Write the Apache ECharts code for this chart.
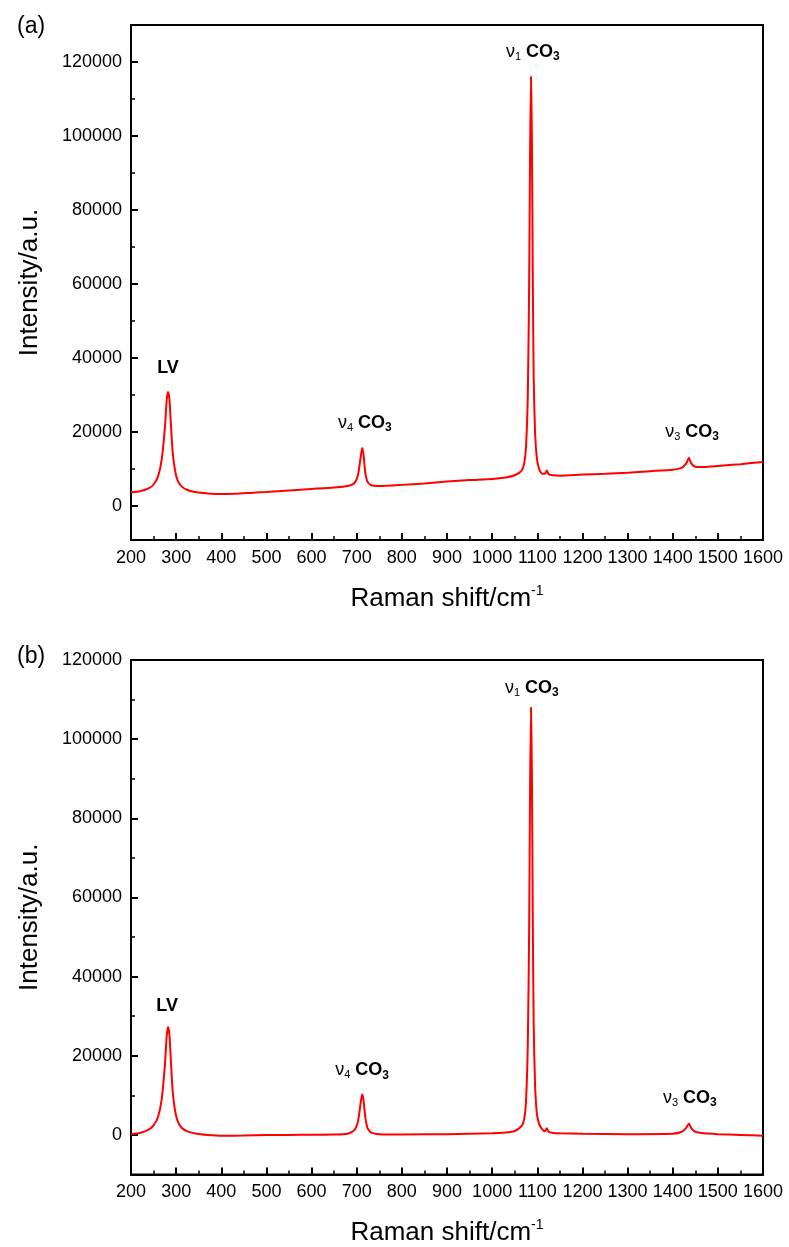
<!DOCTYPE html>
<html>
<head>
<meta charset="utf-8">
<script src="https://cdn.jsdelivr.net/npm/echarts@6/dist/echarts.min.js"></script>
<style>
  html, body { margin: 0; padding: 0; background: #fff; }
  #chart { width: 789px; height: 1247px; }
</style>
</head>
<body>
<div id="chart"></div>
<script>
// Raman shift (cm-1) and intensity
var shiftA = [200, 220, 240, 250, 260, 268, 275, 279, 282, 285, 288, 292, 297, 303, 312, 325, 345, 370, 400, 430, 470, 500, 550, 600, 650, 680, 695, 703, 708, 712, 715, 719, 724, 732, 750, 800, 850, 900, 950, 1000, 1030, 1050, 1065, 1071, 1075, 1079, 1082, 1084, 1086, 1088, 1090, 1092, 1095, 1099, 1104, 1110, 1117, 1121, 1125, 1135, 1150, 1200, 1250, 1300, 1350, 1400, 1420, 1430, 1436, 1441, 1450, 1470, 1500, 1550, 1600];
var intensityA = [3700, 4000, 4800, 5800, 8000, 12500, 21000, 28500, 30800, 29000, 23000, 15000, 10000, 7000, 5300, 4300, 3700, 3400, 3250, 3300, 3600, 3800, 4200, 4600, 5000, 5400, 6200, 8500, 12500, 15700, 14000, 9000, 6500, 5600, 5400, 5700, 6100, 6600, 7000, 7300, 7700, 8300, 9500, 11500, 16000, 30000, 60000, 95000, 116000, 100000, 62000, 35000, 20000, 13000, 10000, 8800, 8700, 9600, 8600, 8300, 8200, 8500, 8700, 9000, 9400, 9800, 10300, 11500, 13000, 11500, 10600, 10500, 10800, 11300, 11900];

// panel (b)
var shiftB = [200, 220, 240, 250, 260, 268, 275, 279, 282, 285, 288, 292, 297, 303, 312, 325, 345, 370, 400, 450, 500, 550, 600, 650, 680, 695, 703, 708, 712, 715, 719, 724, 732, 750, 800, 900, 1000, 1030, 1050, 1065, 1071, 1075, 1079, 1082, 1084, 1086, 1088, 1090, 1092, 1095, 1099, 1104, 1110, 1117, 1121, 1125, 1135, 1150, 1200, 1300, 1400, 1420, 1430, 1436, 1441, 1450, 1470, 1500, 1550, 1600];
var intensityB = [200, 500, 1400, 2400, 4600, 9000, 17500, 24800, 27300, 25500, 19500, 11500, 6500, 3600, 1800, 900, 300, 0, -200, -150, -50, 0, 50, 100, 300, 1200, 3500, 7500, 10300, 8800, 4500, 1700, 600, 200, 100, 200, 400, 600, 1000, 2200, 4000, 8500, 23000, 52000, 87000, 108000, 92000, 55000, 28000, 13000, 5500, 2800, 1500, 900, 1700, 800, 500, 400, 300, 200, 300, 800, 1800, 2900, 1700, 800, 400, 200, 0, -200];

// tick values
var majorTicks = [0, 20000, 40000, 60000, 80000, 100000, 120000];
var minorTicksA = [10000, 30000, 50000, 70000, 90000, 110000, 130000];
var minorTicksB = [-10000, 10000, 30000, 50000, 70000, 90000, 110000];

// peak annotations: [shift, intensity, label]
var peaksA = [[282, 37300, 'lv'], [718, 22400, 'v4'], [1090, 122700, 'v1'], [1443, 20000, 'v3']];
var peaksB = [[280, 32450, 'lv'], [712, 16350, 'v4'], [1088, 113000, 'v1'], [1438, 9300, 'v3']];

var font = 'Liberation Sans, Arial, sans-serif';

function peakText(k) {
    if (k === 'lv') return '{b|LV}';
    return '{nu|ν}{sub|' + k.charAt(1) + '}{b| CO}{sub3|3}';
}

var richPeak = {
    b: { fontFamily: font, fontWeight: 'bold', fontSize: 18, color: '#000' },
    nu: { fontFamily: font, fontSize: 18, color: '#000' },
    sub: { fontFamily: font, fontSize: 11, color: '#000', padding: [10, 0, 0, 0] },
    sub3: { fontFamily: font, fontWeight: 'bold', fontSize: 12, color: '#000', padding: [10, 0, 0, 0] }
};

function pairs(xs, ys) {
    var out = [];
    for (var i = 0; i < xs.length; i++) out.push([xs[i], ys[i]]);
    return out;
}

function plain(v) { return String(v); }

function xAxisFor(idx) {
    return {
        type: 'value', gridIndex: idx, min: 200, max: 1600, interval: 100,
        name: 'Raman shift/cm{sup|-1}', nameLocation: 'middle', nameGap: 44,
        nameTextStyle: {
            fontFamily: font, fontSize: 26, color: '#000',
            rich: { sup: { fontFamily: font, fontSize: 14, color: '#000', padding: [0, 0, 15, 0] } }
        },
        axisLine: { show: true, onZero: false, lineStyle: { color: '#000', width: 2 } },
        axisTick: { show: true, inside: true, length: 7, lineStyle: { color: '#000', width: 2 } },
        minorTick: { show: true, splitNumber: 2, length: 4, lineStyle: { color: '#000', width: 1.5 } },
        axisLabel: { fontFamily: font, fontSize: 18, color: '#000', margin: 9, formatter: plain },
        splitLine: { show: false }
    };
}

function yAxesFor(idx, min, max, minors) {
    return [{
        type: 'value', gridIndex: idx, min: min, max: max,
        name: 'Intensity/a.u.', nameLocation: 'middle', nameGap: 88, nameRotate: 90,
        nameTextStyle: { fontFamily: font, fontSize: 26, color: '#000' },
        axisLine: { show: true, onZero: false, lineStyle: { color: '#000', width: 2 } },
        axisTick: { show: true, inside: true, length: 7, customValues: majorTicks, lineStyle: { color: '#000', width: 2 } },
        axisLabel: { fontFamily: font, fontSize: 18, color: '#000', margin: 9, customValues: majorTicks, formatter: plain },
        splitLine: { show: false }
    }, {
        type: 'value', gridIndex: idx, min: min, max: max, position: 'left',
        axisLine: { show: false, onZero: false },
        axisTick: { show: true, inside: true, length: 4, customValues: minors, lineStyle: { color: '#000', width: 1.5 } },
        axisLabel: { show: false },
        splitLine: { show: false }
    }];
}

function seriesFor(idx, xs, ys, peaks) {
    return {
        type: 'line', xAxisIndex: idx, yAxisIndex: idx * 2,
        data: pairs(xs, ys),
        showSymbol: false, smooth: 0.2,
        lineStyle: { color: '#ff0000', width: 2 },
        itemStyle: { color: '#ff0000' },
        silent: true,
        markPoint: {
            symbol: 'circle', symbolSize: 1, silent: true,
            itemStyle: { color: 'rgba(0,0,0,0)' },
            label: { show: true, position: 'inside', rich: richPeak },
            data: peaks.map(function (p) {
                return { coord: [p[0], p[1]], label: { formatter: peakText(p[2]) } };
            })
        }
    };
}

var chart = echarts.init(document.getElementById('chart'));
var yA = yAxesFor(0, -9200, 130000, minorTicksA);
var yB = yAxesFor(1, -10000, 120000, minorTicksB);

chart.setOption({
    backgroundColor: '#fff',
    animation: false,
    title: [
        { text: '(a)', left: 12, top: 10, textStyle: { fontFamily: font, fontSize: 23, fontWeight: 'normal', color: '#000' } },
        { text: '(b)', left: 12, top: 640, textStyle: { fontFamily: font, fontSize: 23, fontWeight: 'normal', color: '#000' } }
    ],
    grid: [
        { left: 131, top: 25, width: 632, height: 515, show: true, borderColor: '#000', borderWidth: 2, backgroundColor: 'transparent' },
        { left: 131, top: 660, width: 632, height: 517, show: true, borderColor: '#000', borderWidth: 2, backgroundColor: 'transparent' }
    ],
    xAxis: [xAxisFor(0), xAxisFor(1)],
    yAxis: [yA[0], yA[1], yB[0], yB[1]],
    series: [
        seriesFor(0, shiftA, intensityA, peaksA),
        seriesFor(1, shiftB, intensityB, peaksB)
    ]
});
</script>
</body>
</html>
